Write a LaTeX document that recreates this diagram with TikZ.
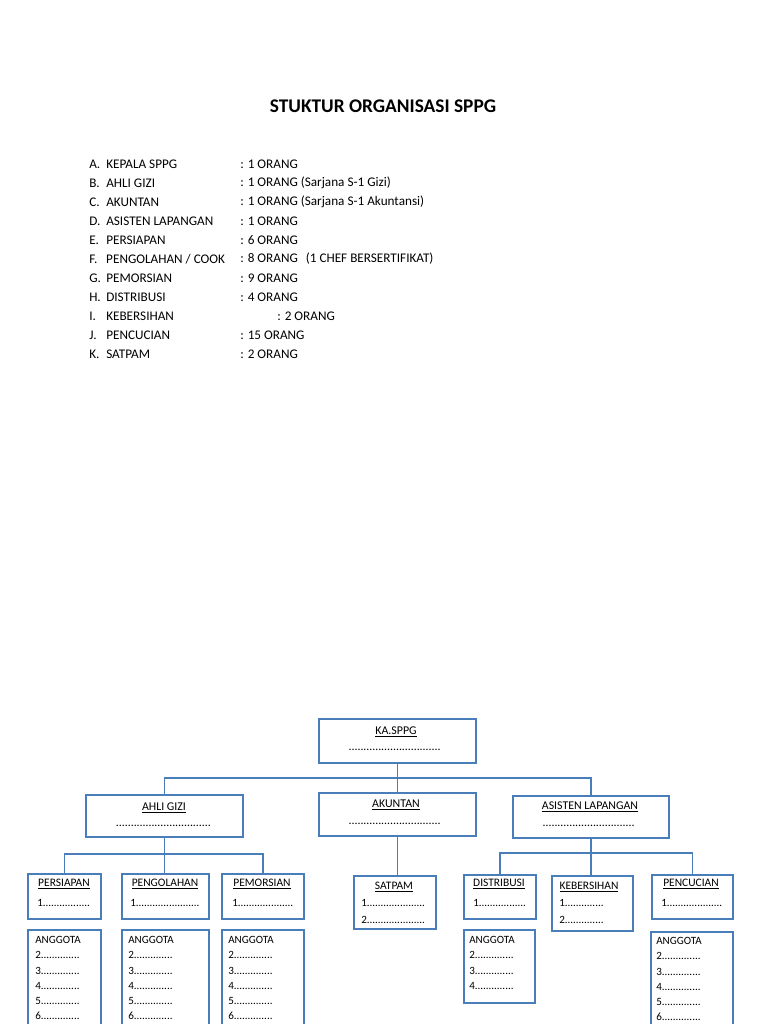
\documentclass[tikz,border=0pt]{standalone}
\usepackage{fontspec}
\setmainfont{Carlito}
\definecolor{garis}{RGB}{74,126,187}
\newcommand{\titik}[1]{\hbox to #1pt{\leaders\hbox to 0.25em{\hss.\hss}\hfill}}
\begin{document}
\begin{tikzpicture}[x=0.75pt,y=-0.75pt,
  kotak/.style={draw=garis,line width=1.4pt,fill=white,inner sep=0pt,anchor=north west},
  hubung/.style={draw=garis,line width=1.4pt},
  daftar/.style={anchor=west,inner sep=0pt,font=\fontsize{9.9}{12}\selectfont},
  jabatan/.style={inner sep=0pt,font=\fontsize{8.9}{10}\selectfont},
  bagian/.style={inner sep=0pt,font=\fontsize{8.6}{10}\selectfont},
  isian/.style={anchor=west,inner sep=0pt,font=\fontsize{8.3}{10}\selectfont}]
\fill[white] (0,0) rectangle (768,1024);
\useasboundingbox (0,0) rectangle (768,1024);
% judul
\node[font=\bfseries\fontsize{14.5}{17}\selectfont] (judul) at (383,106) {STUKTUR ORGANISASI SPPG};
% daftar jabatan
\node[daftar] (n1) at (89,164) {\makebox[12.75pt][l]{A.}KEPALA SPPG};
\node[daftar] (j1) at (240,164) {: 1 ORANG};
\node[daftar] (n2) at (89,183) {\makebox[12.75pt][l]{B.}AHLI GIZI};
\node[daftar] (j2) at (240,183) {: 1 ORANG (Sarjana S-1 Gizi)};
\node[daftar] (n3) at (89,202) {\makebox[12.75pt][l]{C.}AKUNTAN};
\node[daftar] (j3) at (240,202) {: 1 ORANG (Sarjana S-1 Akuntansi)};
\node[daftar] (n4) at (89,221) {\makebox[12.75pt][l]{D.}ASISTEN LAPANGAN};
\node[daftar] (j4) at (240,221) {: 1 ORANG};
\node[daftar] (n5) at (89,240) {\makebox[12.75pt][l]{E.}PERSIAPAN};
\node[daftar] (j5) at (240,240) {: 6 ORANG};
\node[daftar] (n6) at (89,259) {\makebox[12.75pt][l]{F.}PENGOLAHAN / COOK};
\node[daftar] (j6) at (240,259) {: 8 ORANG\hspace{6pt}(1 CHEF BERSERTIFIKAT)};
\node[daftar] (n7) at (89,278) {\makebox[12.75pt][l]{G.}PEMORSIAN};
\node[daftar] (j7) at (240,278) {: 9 ORANG};
\node[daftar] (n8) at (89,297) {\makebox[12.75pt][l]{H.}DISTRIBUSI};
\node[daftar] (j8) at (240,297) {: 4 ORANG};
\node[daftar] (n9) at (89,316) {\makebox[12.75pt][l]{I.}KEBERSIHAN};
\node[daftar] (j9) at (277,316) {: 2 ORANG};
\node[daftar] (n10) at (89,335) {\makebox[12.75pt][l]{J.}PENCUCIAN};
\node[daftar] (j10) at (240,335) {: 15 ORANG};
\node[daftar] (n11) at (89,354) {\makebox[12.75pt][l]{K.}SATPAM};
\node[daftar] (j11) at (240,354) {: 2 ORANG};
% kotak bagan
\node[kotak,minimum width=117.75pt,minimum height=33pt] (ka) at (318,718) {};
\node[kotak,minimum width=117.75pt,minimum height=31.5pt] (ahli) at (85,794) {};
\node[kotak,minimum width=117.75pt,minimum height=32.25pt] (akuntan) at (318,792) {};
\node[kotak,minimum width=117pt,minimum height=31.5pt] (asisten) at (512,795) {};
\node[kotak,minimum width=54.75pt,minimum height=33.75pt] (persiapan) at (27,873) {};
\node[kotak,minimum width=65.25pt,minimum height=33.75pt] (pengolahan) at (121,873) {};
\node[kotak,minimum width=61.5pt,minimum height=33.75pt] (pemorsian) at (221,873) {};
\node[kotak,minimum width=61.5pt,minimum height=39.75pt] (satpam) at (353,875) {};
\node[kotak,minimum width=54pt,minimum height=33pt] (distribusi) at (463,874) {};
\node[kotak,minimum width=60.75pt,minimum height=41.25pt] (kebersihan) at (551,875) {};
\node[kotak,minimum width=60.75pt,minimum height=33pt] (pencucian) at (651,874) {};
\node[kotak,minimum width=54.75pt,minimum height=90pt] (ang1) at (27,929) {};
\node[kotak,minimum width=65.25pt,minimum height=90pt] (ang2) at (121,929) {};
\node[kotak,minimum width=61.5pt,minimum height=90pt] (ang3) at (221,929) {};
\node[kotak,minimum width=53.25pt,minimum height=54.75pt] (ang4) at (463,929) {};
\node[kotak,minimum width=61.5pt,minimum height=90pt] (ang5) at (650,931) {};
% garis hubung
\coordinate (cabang1) at (396,778);
\coordinate (cabang2) at (164,854);
\coordinate (cabang3) at (590,853);
\draw[hubung] (ka.south) -- (akuntan.north);
\draw[hubung] (ahli.north) |- (cabang1) -| (asisten.north);
\draw[hubung] (ahli.south) -- (ahli.south |- pengolahan.north);
\draw[hubung] (persiapan.north) |- (cabang2) -| (pemorsian.north);
\draw[hubung] (akuntan.south) -- (akuntan.south |- satpam.north);
\draw[hubung] (asisten.south) -- (asisten.south |- kebersihan.north);
\draw[hubung] (distribusi.north) |- (cabang3) -| (pencucian.north);
% isi kotak
\node[jabatan] (t-ka) at (396,732) {\underline{KA.SPPG}};
\node[jabatan] (d-ka) at (396,750) {\titik{71}};
\node[jabatan] (t-ahli) at (164,808) {\underline{AHLI GIZI}};
\node[jabatan] (d-ahli) at (164,826) {\titik{72}};
\node[jabatan] (t-akuntan) at (396,805) {\underline{AKUNTAN}};
\node[jabatan] (d-akuntan) at (396,824) {\titik{71}};
\node[jabatan] (t-asisten) at (590,807) {\underline{ASISTEN LAPANGAN}};
\node[jabatan] (d-asisten) at (590,826) {\titik{71}};
\node[bagian] (t-persiapan) at (64,884) {\underline{PERSIAPAN}};
\node[isian] (s-persiapan) at (37,903) {1\titik{36}};
\node[bagian] (t-pengolahan) at (165,884) {\underline{PENGOLAHAN}};
\node[isian] (s-pengolahan) at (130,903) {1\titik{49}};
\node[bagian] (t-pemorsian) at (262,884) {\underline{PEMORSIAN}};
\node[isian] (s-pemorsian) at (232,903) {1\titik{42}};
\node[bagian] (t-satpam) at (394,887) {\underline{SATPAM}};
\node[isian] (s-satpam1) at (361,903) {1\titik{44}};
\node[isian] (s-satpam2) at (361,920) {2\titik{44}};
\node[bagian] (t-distribusi) at (499,884) {\underline{DISTRIBUSI}};
\node[isian] (s-distribusi) at (473,903) {1\titik{36}};
\node[bagian] (t-kebersihan) at (589,887) {\underline{KEBERSIHAN}};
\node[isian] (s-kebersihan1) at (559,903) {1\titik{31}};
\node[isian] (s-kebersihan2) at (559,920) {2\titik{31}};
\node[bagian] (t-pencucian) at (691,884) {\underline{PENCUCIAN}};
\node[isian] (s-pencucian) at (661,903) {1\titik{42}};
% anggota
\node[isian] (a1-0) at (35,940) {ANGGOTA};
\node[isian] (a1-2) at (35,955) {2\titik{30}};
\node[isian] (a1-3) at (35,971) {3\titik{30}};
\node[isian] (a1-4) at (35,986) {4\titik{30}};
\node[isian] (a1-5) at (35,1001) {5\titik{30}};
\node[isian] (a1-6) at (35,1016) {6\titik{30}};
\node[isian] (a2-0) at (128,940) {ANGGOTA};
\node[isian] (a2-2) at (128,955) {2\titik{30}};
\node[isian] (a2-3) at (128,971) {3\titik{30}};
\node[isian] (a2-4) at (128,986) {4\titik{30}};
\node[isian] (a2-5) at (128,1001) {5\titik{30}};
\node[isian] (a2-6) at (128,1016) {6\titik{30}};
\node[isian] (a3-0) at (228,940) {ANGGOTA};
\node[isian] (a3-2) at (228,955) {2\titik{30}};
\node[isian] (a3-3) at (228,971) {3\titik{30}};
\node[isian] (a3-4) at (228,986) {4\titik{30}};
\node[isian] (a3-5) at (228,1001) {5\titik{30}};
\node[isian] (a3-6) at (228,1016) {6\titik{30}};
\node[isian] (a4-0) at (469,940) {ANGGOTA};
\node[isian] (a4-2) at (469,955) {2\titik{30}};
\node[isian] (a4-3) at (469,971) {3\titik{30}};
\node[isian] (a4-4) at (469,986) {4\titik{30}};
\node[isian] (a5-0) at (656,941) {ANGGOTA};
\node[isian] (a5-2) at (656,956) {2\titik{30}};
\node[isian] (a5-3) at (656,972) {3\titik{30}};
\node[isian] (a5-4) at (656,987) {4\titik{30}};
\node[isian] (a5-5) at (656,1002) {5\titik{30}};
\node[isian] (a5-6) at (656,1017) {6\titik{30}};
\end{tikzpicture}
\end{document}
